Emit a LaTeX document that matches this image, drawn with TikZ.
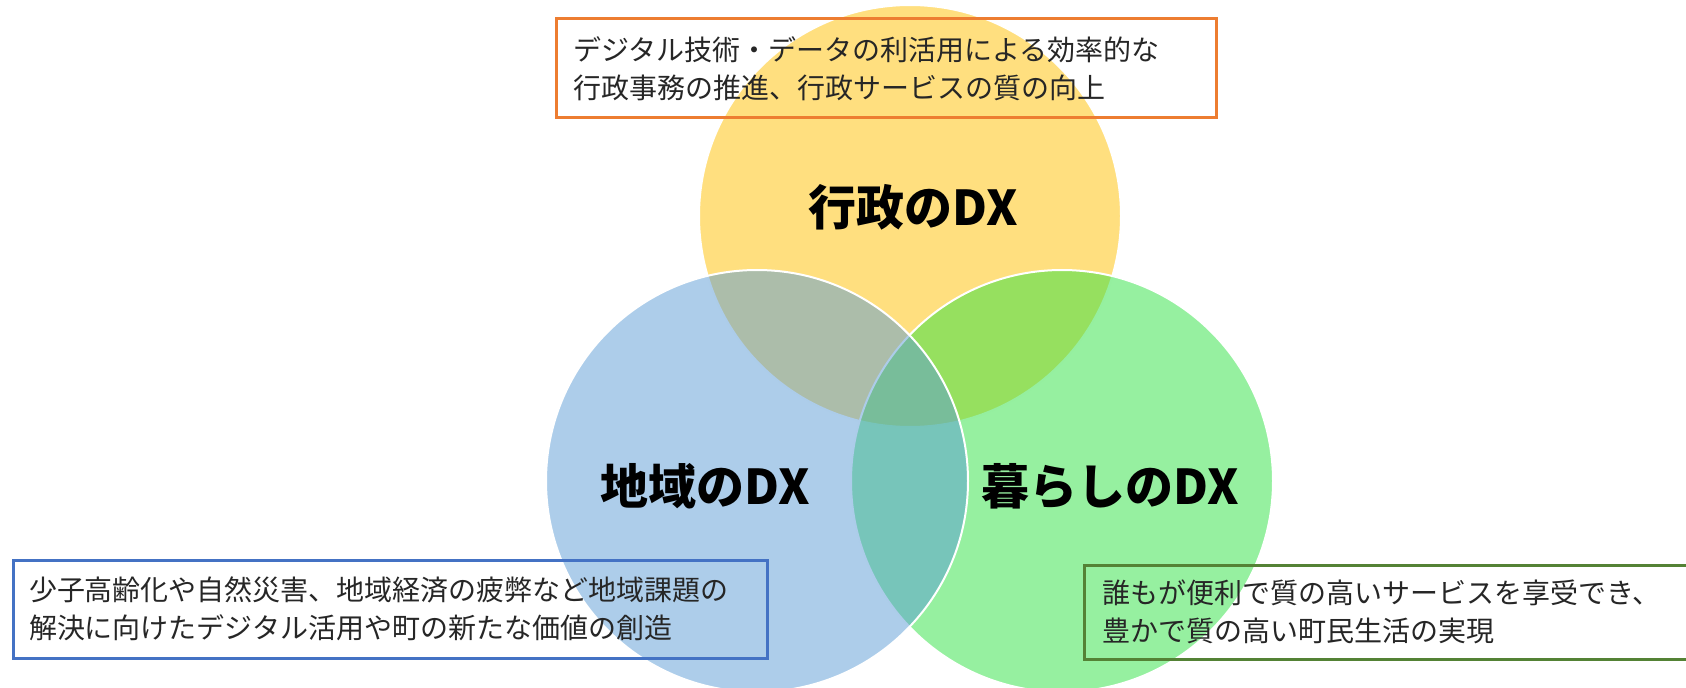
\documentclass[tikz,border=0pt]{standalone}
\usepackage{fontspec}
\setmainfont{Noto Sans CJK JP}
\definecolor{gyoseiyellow}{RGB}{255,192,0}
\definecolor{chiikiblue}{RGB}{91,155,213}
\definecolor{kurashigreen}{RGB}{45,225,65}
\definecolor{gyoseiline}{RGB}{237,125,49}
\definecolor{chiikiline}{RGB}{68,114,196}
\definecolor{kurashiline}{RGB}{84,130,53}
\definecolor{boxtextgray}{RGB}{38,38,38}
\tikzset{
  dxcircle/.style={draw=white, line width=1.5pt, fill opacity=0.5},
  dxtitle/.style={font=\fontsize{36}{40}\selectfont\bfseries},
  dxbox/.style={line width=2.25pt, align=left, text=boxtextgray,
    font=\fontsize{21}{28.5}\selectfont, inner ysep=0pt}
}

\begin{document}
\begin{tikzpicture}[x=0.75pt,y=-0.75pt]
  \useasboundingbox (0,0) rectangle (1686,688);

  % circles
  \draw[dxcircle, fill=gyoseiyellow] (910,216) circle (158.25pt);
  \draw[dxcircle, fill=kurashigreen] (1062,481) circle (158.25pt);
  \draw[dxcircle, fill=chiikiblue] (757,481) circle (158.25pt);

  % titles
  \node[dxtitle] (gyosei) at (913,207) {行政のDX};
  \node[dxtitle] (chiiki) at (705,486) {地域のDX};
  \node[dxtitle] (kurashi) at (1110,486) {暮らしのDX};

  % boxes
  \node[dxbox, draw=gyoseiline, text width=469.5pt, inner xsep=12.75pt,
    minimum height=74.25pt] (gyoseibox) at (886,68.5)
    {デジタル技術・データの利活用による効率的な\\行政事務の推進、行政サービスの質の向上};
  \node[dxbox, draw=chiikiline, text width=541.5pt, inner xsep=12pt,
    minimum height=73.5pt] (chiikibox) at (390,609)
    {少子高齢化や自然災害、地域経済の疲弊など地域課題の\\解決に向けたデジタル活用や町の新たな価値の創造};
  \node[dxbox, draw=kurashiline, text width=435pt, inner xsep=13.5pt,
    minimum height=70.5pt] (kurashibox) at (1392,612)
    {誰もが便利で質の高いサービスを享受でき、\\豊かで質の高い町民生活の実現};
\end{tikzpicture}
\end{document}
